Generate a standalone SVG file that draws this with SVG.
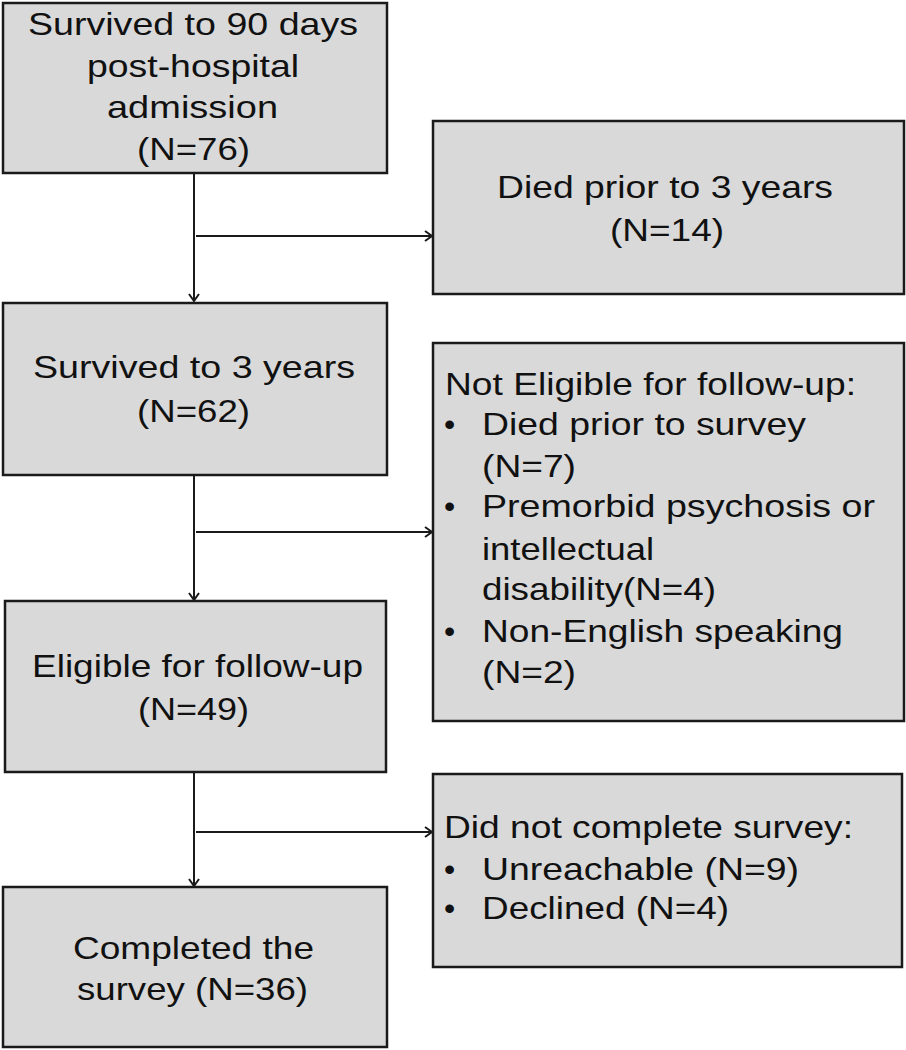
<svg xmlns="http://www.w3.org/2000/svg" width="906" height="1050" viewBox="0 0 906 1050">
<defs>
<marker id="arr" markerUnits="userSpaceOnUse" markerWidth="14" markerHeight="14" refX="9" refY="6" orient="auto">
<path d="M2,1 L9,6 L2,11" fill="none" stroke="#1a1a1a" stroke-width="2"/>
</marker>
<style>
.box{fill:#d9d9d9;stroke:#1a1a1a;stroke-width:2.5}
.t{font-family:"Liberation Sans",Arial,sans-serif;font-size:32px;fill:#111}
.c{fill:none;stroke:#1a1a1a;stroke-width:2}
</style>
</defs>
<rect width="906" height="1050" fill="#fff"/>
<g id="connectors">
<path class="c" d="M194,173 V301" marker-end="url(#arr)"/>
<path class="c" d="M196,236 H432" marker-end="url(#arr)"/>
<path class="c" d="M194,475 V600" marker-end="url(#arr)"/>
<path class="c" d="M196,532 H432" marker-end="url(#arr)"/>
<path class="c" d="M194,772 V886" marker-end="url(#arr)"/>
<path class="c" d="M196,832 H432" marker-end="url(#arr)"/>
</g>
<g id="n1">
<rect class="box" x="3" y="3" width="384" height="170"/>
<text class="t" x="28" y="35" textLength="330" lengthAdjust="spacingAndGlyphs">Survived to 90 days</text>
<text class="t" x="87" y="77" textLength="212" lengthAdjust="spacingAndGlyphs">post-hospital</text>
<text class="t" x="107" y="118" textLength="171" lengthAdjust="spacingAndGlyphs">admission</text>
<text class="t" x="137" y="160" textLength="113" lengthAdjust="spacingAndGlyphs">(N=76)</text>
</g>
<g id="n2">
<rect class="box" x="433" y="121" width="471" height="173"/>
<text class="t" x="497" y="198" textLength="336" lengthAdjust="spacingAndGlyphs">Died prior to 3 years</text>
<text class="t" x="610" y="241" textLength="114" lengthAdjust="spacingAndGlyphs">(N=14)</text>
</g>
<g id="n3">
<rect class="box" x="3" y="303" width="384" height="172"/>
<text class="t" x="33" y="378" textLength="322" lengthAdjust="spacingAndGlyphs">Survived to 3 years</text>
<text class="t" x="137" y="422" textLength="113" lengthAdjust="spacingAndGlyphs">(N=62)</text>
</g>
<g id="n4">
<rect class="box" x="433" y="343" width="471" height="378"/>
<text class="t" x="445" y="395" textLength="411" lengthAdjust="spacingAndGlyphs">Not Eligible for follow-up:</text>
<text class="t" x="444" y="435">•</text>
<text class="t" x="482" y="435" textLength="324" lengthAdjust="spacingAndGlyphs">Died prior to survey</text>
<text class="t" x="482" y="477" textLength="94" lengthAdjust="spacingAndGlyphs">(N=7)</text>
<text class="t" x="444" y="517">•</text>
<text class="t" x="482" y="517" textLength="393" lengthAdjust="spacingAndGlyphs">Premorbid psychosis or</text>
<text class="t" x="482" y="560" textLength="172" lengthAdjust="spacingAndGlyphs">intellectual</text>
<text class="t" x="482" y="600" textLength="234" lengthAdjust="spacingAndGlyphs">disability(N=4)</text>
<text class="t" x="444" y="642">•</text>
<text class="t" x="482" y="642" textLength="361" lengthAdjust="spacingAndGlyphs">Non-English speaking</text>
<text class="t" x="482" y="683" textLength="94" lengthAdjust="spacingAndGlyphs">(N=2)</text>
</g>
<g id="n5">
<rect class="box" x="5" y="601" width="381" height="171"/>
<text class="t" x="32" y="677" textLength="331" lengthAdjust="spacingAndGlyphs">Eligible for follow-up</text>
<text class="t" x="138" y="720" textLength="111" lengthAdjust="spacingAndGlyphs">(N=49)</text>
</g>
<g id="n6">
<rect class="box" x="433" y="774" width="469" height="193"/>
<text class="t" x="444" y="838" textLength="409" lengthAdjust="spacingAndGlyphs">Did not complete survey:</text>
<text class="t" x="444" y="880">•</text>
<text class="t" x="482" y="880" textLength="317" lengthAdjust="spacingAndGlyphs">Unreachable (N=9)</text>
<text class="t" x="444" y="919">•</text>
<text class="t" x="482" y="919" textLength="247" lengthAdjust="spacingAndGlyphs">Declined (N=4)</text>
</g>
<g id="n7">
<rect class="box" x="3" y="887" width="384" height="160"/>
<text class="t" x="73" y="959" textLength="241" lengthAdjust="spacingAndGlyphs">Completed the</text>
<text class="t" x="77" y="1000" textLength="231" lengthAdjust="spacingAndGlyphs">survey (N=36)</text>
</g>
</svg>
